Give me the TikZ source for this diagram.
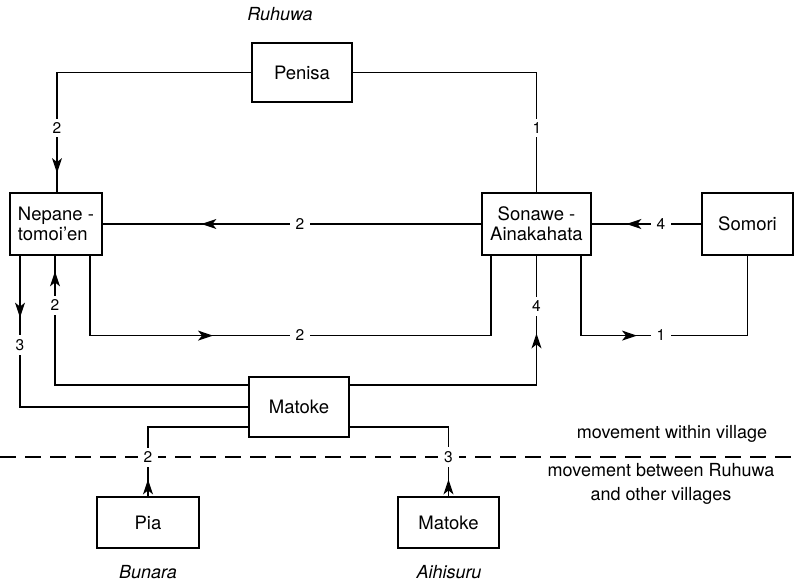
\documentclass[tikz,border=0pt]{standalone}
\usepackage{fontspec}
\setmainfont{TeX Gyre Heros}
\usetikzlibrary{arrows.meta,decorations.markings}

\tikzset{
  box/.style={draw, line width=1.2pt, inner sep=0pt, align=center,
    font=\fontsize{18.5}{20}\selectfont},
  link/.style={line width=1.2pt},
  flowtip/.tip={Stealth[length=15pt,width=10pt,inset=4pt]},
  tipat/.style={postaction={decorate,decoration={markings,
    mark=at position #1pt with {\arrow{flowtip}}}}},
  lbl/.style={fill=white, inner xsep=6pt, inner ysep=4pt,
    font=\fontsize{15.5}{17}\selectfont},
  place/.style={font=\fontsize{18}{20}\itshape\selectfont},
  note/.style={align=center, font=\fontsize{18}{24}\selectfont}
}

\begin{document}
\begin{tikzpicture}[x=1pt,y=-1pt]
  \useasboundingbox (0,0) rectangle (797,581);

  % villages
  \node[place] (ruhuwa) at (280,14) {Ruhuwa};
  \node[place] (bunara) at (148,572) {Bunara};
  \node[place] (aihisuru) at (449,572) {Aihisuru};

  % households
  \node[box, minimum width=100pt, minimum height=59pt] (penisa) at (302,72.5) {Penisa};
  \node[box, minimum width=92pt, minimum height=62pt, align=left] (nepane) at (56,224) {Nepane -\\tomoi'en};
  \node[box, minimum width=109pt, minimum height=62pt] (sonawe) at (536.5,224) {Sonawe -\\Ainakahata};
  \node[box, minimum width=91pt, minimum height=62pt] (somori) at (747.5,224) {Somori};
  \node[box, minimum width=100pt, minimum height=60pt] (matoke) at (299,407) {Matoke};
  \node[box, minimum width=102pt, minimum height=51pt] (pia) at (148,522.5) {Pia};
  \node[box, minimum width=101pt, minimum height=51pt] (matokeb) at (448.5,522.5) {Matoke};

  % boundary between the village and the others
  \coordinate (dl) at (0,457);
  \coordinate (dr) at (797,457);
  \draw[link, dash pattern=on 16pt off 9pt] (dl) -- (dr);

  % movements
  \draw[link, tipat=295] (penisa.west) -| ([xshift=1pt]nepane.north);
  \draw[link] (penisa.east) -| (sonawe.north);
  \draw[link, tipat=280] (sonawe.west) -- (nepane.east);
  \draw[link, tipat=75] (somori.west) -- (sonawe.east);
  \draw[link, tipat=203] ([xshift=34pt]nepane.south) -- ++(0,80) -| ([xshift=-45.5pt]sonawe.south);
  \draw[link, tipat=136] ([xshift=44.5pt]sonawe.south) -- ++(0,80) -| (somori.south);
  \draw[link, tipat=238.5] ([yshift=22pt]matoke.east) -| (sonawe.south);
  \draw[link, tipat=307] ([yshift=22pt]matoke.west) -| ([xshift=-1pt]nepane.south);
  \draw[link, tipat=62] ([xshift=-36pt]nepane.south) |- (matoke.west);
  \draw[link, tipat=17] (pia.north) |- ([yshift=-20pt]matoke.west);
  \draw[link, tipat=17] (matokeb.north) |- ([yshift=-20pt]matoke.east);

  % counts
  \node[lbl] (n1) at (57,128) {2};
  \node[lbl] (n2) at (537,128) {1};
  \node[lbl] (n3) at (300,224) {2};
  \node[lbl] (n4) at (661,224) {4};
  \node[lbl] (n5) at (300,335) {2};
  \node[lbl] (n6) at (661,335) {1};
  \node[lbl] (n7) at (536.5,306) {4};
  \node[lbl] (n8) at (55,305) {2};
  \node[lbl] (n9) at (20,345) {3};
  \node[lbl] (n10) at (148,457) {2};
  \node[lbl] (n11) at (448.5,457) {3};

  % legend
  \node[note] (within) at (672,434) {movement within village};
  \node[note] (between) at (661,484) {movement between Ruhuwa\\and other villages};
\end{tikzpicture}
\end{document}
